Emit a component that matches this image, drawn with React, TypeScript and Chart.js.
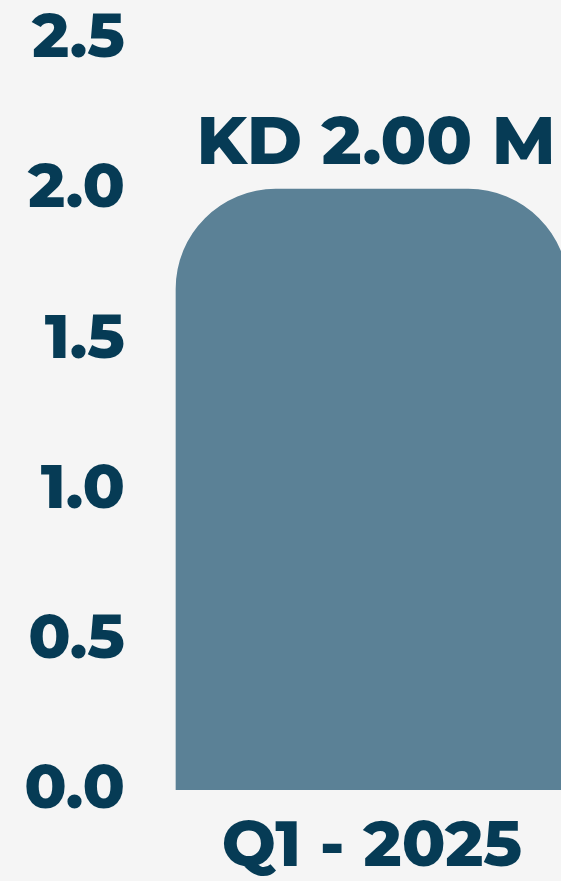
import React, { useEffect, useRef } from "react";
import { Chart, registerables } from "chart.js";

Chart.register(...registerables);

const categories = ["Q1 - 2025"];
const values = [2.0];
const valueLabels = ["KD 2.00 M"];
const yMin = 0;
const yMax = 2.5;
const yStep = 0.5;

const TEXT = "#063b55";
const BAR = "#5b8196";
const BG = "#f5f5f5";
const FONT = "Montserrat, Inter, 'Open Sans', sans-serif";

const valueLabelPlugin = {
  id: "valueLabel",
  afterDatasetsDraw(chart: any) {
    const ctx = chart.ctx;
    const meta = chart.getDatasetMeta(0);
    ctx.save();
    ctx.fillStyle = TEXT;
    ctx.font = `800 67px ${FONT}`;
    ctx.textAlign = "center";
    ctx.textBaseline = "alphabetic";
    meta.data.forEach((el: any, i: number) => {
      ctx.fillText(valueLabels[i], el.x + 4, el.y - 25);
    });
    ctx.restore();
  },
};

export default function App() {
  const ref = useRef<HTMLCanvasElement | null>(null);
  useEffect(() => {
    if (!ref.current) return;
    const chart = new Chart(ref.current, {
      type: "bar",
      data: {
        labels: categories,
        datasets: [
          {
            data: values,
            backgroundColor: BAR,
            borderWidth: 0,
            barThickness: 392,
            borderRadius: { topLeft: 100, topRight: 100, bottomLeft: 0, bottomRight: 0 },
            borderSkipped: false,
          },
        ],
      },
      options: {
        animation: false,
        responsive: false,
        maintainAspectRatio: false,
        layout: { padding: { top: 39, left: 0, right: 0, bottom: 0 } },
        plugins: { legend: { display: false }, tooltip: { enabled: false } },
        scales: {
          x: {
            grid: { display: false, drawTicks: false },
            border: { display: false },
            ticks: {
              color: TEXT,
              font: { family: FONT, size: 64, weight: "800" },
              padding: 19,
            },
            afterFit(scale: any) {
              scale.height = 91;
              scale.paddingLeft = 0;
              scale.paddingRight = 0;
            },
          },
          y: {
            min: yMin,
            max: yMax,
            grid: { display: false, drawTicks: false },
            border: { display: false },
            ticks: {
              stepSize: yStep,
              color: TEXT,
              font: { family: FONT, size: 62, weight: "800" },
              padding: 25,
              callback: (v: any) => Number(v).toFixed(1),
            },
            afterFit(scale: any) {
              scale.width = 150;
              scale.paddingTop = 0;
              scale.paddingBottom = 0;
            },
          },
        },
      },
      plugins: [valueLabelPlugin],
    });
    return () => chart.destroy();
  }, []);

  return (
    <div
      style={{
        position: "fixed",
        left: 0,
        top: 0,
        width: 561,
        height: 881,
        overflow: "hidden",
        background: BG,
      }}
    >
      <canvas ref={ref} width={594} height={881} style={{ width: 594, height: 881, display: "block" }} />
    </div>
  );
}
